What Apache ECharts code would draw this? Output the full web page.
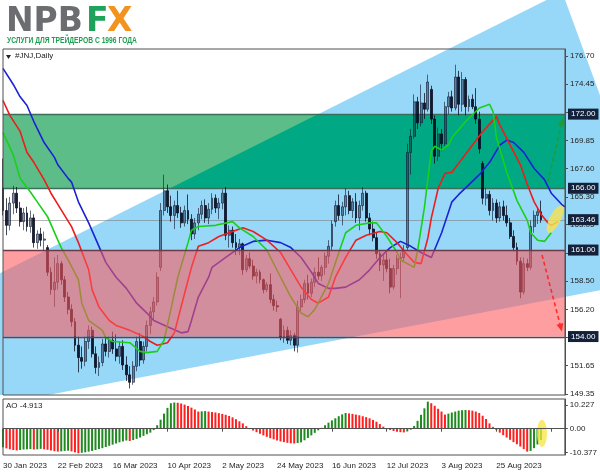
<!DOCTYPE html>
<html><head><meta charset="utf-8">
<script src="https://cdn.jsdelivr.net/npm/echarts@6/dist/echarts.min.js"></script>
<style>html,body{margin:0;padding:0;background:#fff}#c{width:600px;height:476px}</style>
</head><body><div id="c"></div>
<script>
// ---------------- data ----------------
const dateLabels = ['30 Jan 2023','22 Feb 2023','16 Mar 2023','10 Apr 2023','2 May 2023','24 May 2023','16 Jun 2023','12 Jul 2023','3 Aug 2023','25 Aug 2023'];
const labelEvery = 16;
const barSlots = 165;
const priceTicks = [176.70,174.45,172.15,169.85,167.60,165.30,163.05,160.75,158.50,156.20,153.95,151.65,149.35];
const aoTicks = [10.227, 0, -10.377];
const aoTickLabels = ['10.227','0.00','-10.377'];
const levelPrices = [172.00, 166.00, 161.00, 154.00];
const currentPrice = 163.46;
const aoName = 'AO -4.913';
const symbolName = '#JNJ,Daily';
// [open, high, low, close]
const ohlc = [
[166.0,168.4,163.8,164.2],[164.2,165.2,162.2,163.0],[163.0,165.3,162.6,164.8],[164.8,166.2,163.9,165.6],[165.6,166.1,164.0,164.4],
[164.4,164.9,162.9,163.3],[163.3,164.4,162.6,164.0],[164.0,164.5,162.5,162.9],[162.9,164.2,162.4,163.6],[163.6,163.9,161.2,161.6],
[161.6,162.6,161.1,162.3],[162.3,162.8,161.3,161.8],[161.8,162.5,161.0,161.9],[161.2,161.4,158.9,159.2],[159.2,159.6,157.4,157.8],
[157.8,160.4,156.4,158.4],[158.4,160.6,157.8,159.9],[159.9,160.1,158.2,158.6],[158.6,158.9,156.8,157.2],[157.2,157.6,155.8,156.2],
[156.2,156.6,154.8,155.2],[155.2,155.5,152.8,153.3],[153.3,154.0,151.1,152.3],[152.3,153.2,151.4,152.0],[152.0,154.0,151.6,153.6],
[153.6,154.9,153.0,154.5],[154.5,154.8,152.3,152.6],[152.6,153.2,151.0,151.5],[151.5,152.4,150.8,151.9],[151.9,153.8,151.6,153.4],
[153.4,154.0,152.4,152.8],[152.8,154.0,152.3,153.7],[153.7,154.4,152.6,153.0],[153.0,154.2,152.0,152.4],[152.4,153.6,151.8,153.2],
[153.2,153.7,151.3,151.7],[151.7,152.4,150.4,150.9],[150.9,151.6,149.8,150.3],[150.3,152.0,150.1,151.6],[151.6,154.0,151.2,153.6],
[153.6,154.3,151.6,152.1],[152.1,153.6,151.8,153.2],[153.2,155.3,152.8,154.9],[154.9,156.4,154.2,156.0],[156.0,157.2,155.3,156.8],
[156.8,159.2,156.5,158.8],[159.6,164.8,159.3,164.2],[164.2,167.1,163.8,165.8],[165.8,166.3,164.0,164.5],[164.5,165.4,163.3,163.8],
[163.8,165.0,162.7,164.6],[164.6,165.8,163.6,164.0],[164.0,164.5,162.8,163.2],[163.2,164.6,162.9,164.2],[164.2,165.5,163.1,163.5],
[163.5,163.9,161.8,162.3],[162.3,163.6,161.9,163.2],[163.2,164.4,162.6,163.9],[163.9,165.0,163.5,164.6],[164.6,165.1,163.2,163.6],
[163.6,164.8,163.1,164.3],[164.3,165.6,163.9,165.2],[165.2,165.5,164.0,164.4],[164.4,165.2,163.5,164.8],[164.8,165.9,164.3,165.6],
[165.6,166.1,161.8,162.2],[162.2,163.0,161.2,162.6],[162.6,162.9,161.2,161.6],[161.6,162.3,160.6,161.2],[161.2,161.9,160.6,161.5],
[161.5,161.6,159.0,159.4],[159.4,160.6,159.2,160.3],[160.3,160.8,159.5,159.7],[159.7,160.2,158.6,158.9],[158.9,159.5,158.3,159.2],
[159.2,159.4,158.3,158.6],[158.6,158.7,157.5,157.8],[157.8,158.4,157.6,158.2],[158.2,159.1,156.7,157.0],[157.0,157.4,156.1,156.5],
[156.5,156.9,156.0,156.4],[155.4,155.5,153.7,153.9],[153.9,154.9,153.5,154.5],[154.5,154.8,153.4,153.7],[153.7,154.5,153.3,154.1],
[154.1,154.3,152.8,153.3],[153.3,156.9,152.7,156.4],[156.4,157.4,155.9,157.0],[157.0,158.6,156.7,158.3],[158.3,159.0,157.0,157.5],
[157.5,158.7,157.2,158.4],[158.4,159.6,158.0,159.2],[159.2,160.4,158.6,158.9],[158.9,159.8,158.5,159.6],[159.6,160.8,159.0,160.5],
[160.5,161.8,159.9,161.3],[161.3,163.4,161.0,163.1],[163.3,165.0,162.9,164.6],[164.6,165.5,163.4,163.8],[163.8,164.9,163.0,164.5],
[164.5,166.0,163.8,165.4],[165.4,165.8,163.9,164.2],[164.2,165.2,163.6,164.9],[164.9,165.6,163.2,163.6],[163.6,165.0,162.6,164.6],
[164.6,166.1,164.2,165.6],[165.6,165.8,163.3,163.6],[163.6,164.0,162.2,162.7],[162.7,163.3,161.7,162.0],[162.0,162.4,160.3,160.7],
[160.7,161.0,159.3,159.8],[159.8,160.6,158.5,160.2],[160.2,160.8,159.2,159.5],[159.5,160.3,157.5,158.0],[158.0,159.8,157.8,159.5],
[159.5,160.6,159.0,160.3],[160.3,160.8,157.1,160.4],[160.4,161.4,160.1,161.0],[161.2,169.6,161.0,168.9],[168.9,170.8,167.1,170.2],
[170.2,173.6,170.0,173.0],[173.0,173.4,170.8,171.3],[171.3,174.4,171.0,172.9],[172.9,173.7,171.6,172.4],[172.4,175.2,172.2,174.6],
[174.0,174.3,171.2,171.6],[171.6,171.9,168.0,168.6],[168.6,170.9,168.2,170.4],[170.4,170.8,169.0,169.6],[169.6,173.0,169.4,172.6],
[172.6,173.8,172.0,173.4],[173.4,173.9,172.2,172.5],[172.5,176.0,172.3,175.0],[175.0,175.5,171.9,172.8],[172.8,175.4,172.2,174.8],
[174.8,175.0,171.9,172.6],[172.6,173.5,172.2,173.2],[173.2,173.6,172.4,172.6],[172.6,174.1,171.2,171.6],[171.6,172.2,168.8,169.2],
[168.0,168.2,164.7,165.2],[165.2,166.0,164.6,165.5],[165.5,165.8,163.8,164.2],[164.2,165.2,163.4,164.8],[164.8,165.1,163.2,163.6],
[163.6,164.9,163.3,164.5],[164.5,165.0,163.4,163.8],[163.8,164.6,162.9,163.2],[163.2,163.6,161.9,162.1],[162.1,162.6,160.9,161.2],
[161.2,161.6,159.8,160.1],[160.1,160.4,157.1,157.6],[157.6,160.4,157.4,159.9],[159.9,160.3,159.3,159.6],[159.6,163.4,159.4,162.9],
[162.9,164.2,162.4,163.8],[163.8,164.4,163.1,164.1],[164.1,165.0,163.2,163.46]
];
// Alligator lines: [bar, price]
const jawLine = [[0,175.7],[3,174.4],[5,173.4],[7,172.7],[9,171.4],[12,169.7],[15,168.5],[16,167.9],[19,166.8],[20,166.5],[22,164.9],[25,163.2],[28,161.3],[30,160.0],[33,158.8],[36,157.9],[39,156.7],[42,155.9],[44,155.3],[48,154.8],[52,154.3],[54,154.4],[55,155.3],[57,157.2],[60,158.8],[61,159.6],[65,160.4],[69,161.2],[73,161.7],[77,161.8],[81,161.6],[84,161.2],[87,160.4],[90,159.2],[92,158.3],[95,157.9],[97,157.9],[100,158.0],[104,158.6],[107,159.4],[110,160.4],[113,161.2],[116,161.7],[119,161.3],[122,160.8],[125,160.4],[128,162.4],[131,164.9],[133,165.5],[136,166.3],[139,167.1],[142,168.1],[145,169.5],[147,169.9],[149,169.7],[152,168.9],[155,167.6],[158,166.7],[160,165.6],[163,164.7],[164,164.5]];
const teethLine = [[0,173.1],[2,171.9],[5,170.6],[7,168.9],[9,168.1],[12,166.7],[14,165.6],[16,164.7],[20,162.9],[22,161.6],[25,159.4],[26,157.8],[28,156.4],[31,155.3],[33,154.9],[37,154.5],[41,154.0],[43,153.6],[45,153.3],[48,153.5],[50,154.3],[53,157.5],[55,159.6],[57,161.3],[60,161.6],[63,162.1],[67,162.5],[70,162.8],[73,162.5],[77,161.8],[81,160.8],[84,159.4],[87,158.0],[90,157.0],[92,156.7],[95,157.2],[97,158.8],[100,160.4],[103,161.8],[106,162.2],[110,162.5],[112,162.4],[115,161.6],[118,160.6],[120,160.0],[122,159.9],[124,162.0],[125,163.6],[126,164.8],[127,166.0],[129,167.2],[131,167.3],[134,168.4],[137,169.5],[140,170.6],[144,171.8],[145,171.1],[148,169.5],[151,167.9],[153,166.3],[155,164.9],[157,163.9],[159,163.2],[160,163.0],[162,163.3]];
const lipsLine = [[0,170.5],[3,168.7],[5,166.8],[8,165.7],[10,164.9],[13,163.7],[16,161.8],[17,161.2],[19,160.2],[22,158.6],[23,156.7],[25,155.3],[27,154.9],[29,154.5],[30,153.9],[32,153.6],[37,153.5],[40,152.8],[42,152.7],[45,152.8],[47,153.7],[49,156.2],[51,158.8],[54,161.6],[55,162.6],[57,162.9],[62,163.0],[67,163.3],[69,162.8],[73,162.1],[77,161.0],[81,158.8],[84,157.2],[87,155.9],[89,155.6],[91,156.2],[95,158.3],[98,160.8],[100,162.4],[103,163.0],[107,163.2],[109,163.2],[112,162.1],[115,160.8],[116,160.2],[120,159.6],[121,161.0],[123,164.5],[124,166.8],[125,169.0],[126,169.4],[128,169.1],[130,169.5],[131,170.1],[135,171.4],[139,172.5],[142,172.8],[143,172.2],[144,170.1],[147,167.3],[150,165.0],[153,163.4],[154,162.4],[156,161.8],[158,161.7],[160,162.4]];
const aoValues = [
-8.0,-8.5,-8.9,-9.2,-9.4,-9.2,-9.0,-8.9,-8.8,-9.0,-8.9,-8.7,-8.9,-9.1,-9.4,-9.7,-9.9,-9.8,-9.6,-9.5,
-9.8,-10.2,-10.6,-10.4,-10.2,-9.9,-9.6,-9.2,-8.8,-8.4,-7.9,-7.4,-6.9,-6.4,-5.9,-5.5,-5.1,-5.3,-4.9,-4.4,
-3.8,-3.1,-2.4,-1.7,-0.6,1.5,3.9,6.5,9.0,11.0,11.3,11.2,10.9,10.4,9.8,9.1,8.3,7.4,7.5,7.6,
7.4,7.2,7.0,6.7,6.4,6.0,5.5,4.9,4.1,3.2,2.3,1.1,-0.2,-0.8,-1.5,-2.2,-2.9,-3.5,-4.1,-4.6,
-5.1,-5.5,-5.8,-6.1,-6.3,-6.4,-6.2,-5.9,-5.0,-4.0,-2.9,-1.8,-0.7,0.4,1.5,2.6,3.6,4.5,5.4,6.2,
6.8,6.6,6.4,6.1,5.8,5.4,5.0,4.5,3.8,3.0,2.0,0.9,-0.2,-0.6,-1.0,-1.3,-1.5,-1.6,-1.2,-0.4,
1.2,3.4,6.0,8.8,11.7,11.0,9.9,8.6,7.4,6.1,6.5,7.0,7.4,7.8,8.0,8.1,8.0,7.8,7.4,6.8,
5.6,4.2,2.3,0.8,-0.6,-1.7,-2.8,-3.8,-4.8,-5.8,-6.7,-7.7,-8.8,-9.9,-9.6,-8.4,-6.8,-4.913
];
// annotation objects in data coordinates [bar, price]
const channelTriangle = [[-124.0,142.05],[163.2,181.87],[193.7,158.78]];
const greenZone = [166.00, 172.00];
const redZone = [154.00, 161.00];
const upArrow = [[159.0,166.5],[163.4,171.7]];
const downArrow = [[157.3,160.6],[163.1,154.4]];
const priceMarker = [161.1,163.5];
const aoMarker = [157.3,-2.0];

// ---------------- chart ----------------
const chart = echarts.init(document.getElementById('c'), null, {renderer:'canvas', width:600, height:476});
const slots = Array.from({length: barSlots}, (_, i) => i);
const priceMin = 149.27, priceMax = 177.27, aoMin = -11.36, aoMax = 12.83;
const FONT = '"Liberation Sans", Arial, sans-serif';

function clipPoly(poly, xmin, xmax, ymin, ymax) {
  const edges = [
    [p => p[0] >= xmin, (a,b) => { const t=(xmin-a[0])/(b[0]-a[0]); return [xmin, a[1]+t*(b[1]-a[1])]; }],
    [p => p[0] <= xmax, (a,b) => { const t=(xmax-a[0])/(b[0]-a[0]); return [xmax, a[1]+t*(b[1]-a[1])]; }],
    [p => p[1] >= ymin, (a,b) => { const t=(ymin-a[1])/(b[1]-a[1]); return [a[0]+t*(b[0]-a[0]), ymin]; }],
    [p => p[1] <= ymax, (a,b) => { const t=(ymax-a[1])/(b[1]-a[1]); return [a[0]+t*(b[0]-a[0]), ymax]; }]
  ];
  let out = poly;
  for (const [inside, inter] of edges) {
    const inp = out; out = [];
    for (let i = 0; i < inp.length; i++) {
      const cur = inp[i], prev = inp[(i + inp.length - 1) % inp.length];
      if (inside(cur)) { if (!inside(prev)) out.push(inter(prev, cur)); out.push(cur); }
      else if (inside(prev)) out.push(inter(prev, cur));
    }
    if (!out.length) break;
  }
  return out;
}
function makePt(api) {
  return (bar, val) => {
    const b0 = Math.floor(bar);
    const a = api.coord([b0, val]), b = api.coord([b0 + 1, val]);
    return [a[0] + (bar - b0) * (b[0] - a[0]), a[1]];
  };
}
function arrowEls(p0, p1, color) {
  const dx = p1[0]-p0[0], dy = p1[1]-p0[1], L = Math.hypot(dx, dy);
  const ux = dx/L, uy = dy/L, hl = 8, hw = 3.5;
  const base = [p1[0]-ux*hl, p1[1]-uy*hl];
  return [
    {type:'line', shape:{x1:p0[0], y1:p0[1], x2:base[0], y2:base[1]}, style:{stroke:color, lineWidth:1.6, lineDash:[4,3]}},
    {type:'polygon', shape:{points:[p1, [base[0]-uy*hw, base[1]+ux*hw], [base[0]+uy*hw, base[1]-ux*hw]]}, style:{fill:color}}
  ];
}
function ellipsePts(c, ax, rx, ry) {
  const L = Math.hypot(ax[0], ax[1]); const u = [ax[0]/L, ax[1]/L], v = [-u[1], u[0]];
  const pts = [];
  for (let k = 0; k < 40; k++) {
    const t = k/40*Math.PI*2, a = Math.cos(t)*rx, b = Math.sin(t)*ry;
    pts.push([c[0]+a*u[0]+b*v[0], c[1]+a*u[1]+b*v[1]]);
  }
  return pts;
}
function bandEdges(api, z) {
  return [api.coord([0, z[1]])[1], api.coord([0, z[0]])[1]];
}

// background: channel wedge + green zone (opaque, under the price)
function regionsRender(params, api) {
  const pt = makePt(api);
  const xL = api.coord([0, priceMin])[0], xR = api.coord([barSlots-1, priceMin])[0];
  const yBot = api.coord([0, priceMin])[1];
  const tri = channelTriangle.map(p => pt(p[0], p[1]));
  const wedge = clipPoly(tri, 0, api.getWidth(), 0, yBot);
  const kids = [{type:'polygon', shape:{points:wedge}, style:{fill:'#97d8f8'}}];
  const [y1, y2] = bandEdges(api, greenZone);
  kids.push({type:'polygon', shape:{points:[[xL,y1],[xR,y1],[xR,y2],[xL,y2]]}, style:{fill:'#5cbd89'}});
  const inter = clipPoly(tri, xL, xR, y1, y2);
  if (inter.length > 2) kids.push({type:'polygon', shape:{points:inter}, style:{fill:'#00a983'}});
  for (const y of [y1, y2]) kids.push({type:'line', shape:{x1:xL, y1:Math.round(y)+0.5, x2:xR, y2:Math.round(y)+0.5}, style:{stroke:'#3c6e5c', lineWidth:1.3}});
  const yc = Math.round(api.coord([0, currentPrice])[1]) + 0.5;
  kids.push({type:'line', shape:{x1:xL, y1:yc, x2:xR, y2:yc}, style:{stroke:'rgba(120,120,120,0.55)', lineWidth:1}});
  return {type:'group', children:kids};
}
// red zone: translucent, drawn over the price like the original
function redZoneRender(params, api) {
  const xL = api.coord([0, priceMin])[0], xR = api.coord([barSlots-1, priceMin])[0];
  const [y1, y2] = bandEdges(api, redZone);
  const kids = [{type:'polygon', shape:{points:[[xL,y1],[xR,y1],[xR,y2],[xL,y2]]}, style:{fill:'rgba(255,88,92,0.58)'}}];
  for (const y of [y1, y2]) kids.push({type:'line', shape:{x1:xL, y1:Math.round(y)+0.5, x2:xR, y2:Math.round(y)+0.5}, style:{stroke:'#6e3a4a', lineWidth:1.3}});
  return {type:'group', children:kids};
}

function annotRender(params, api) {
  const pt = makePt(api);
  const kids = [];
  kids.push(...arrowEls(pt(upArrow[0][0], upArrow[0][1]), pt(upArrow[1][0], upArrow[1][1]), '#1f9a3c'));
  kids.push(...arrowEls(pt(downArrow[0][0], downArrow[0][1]), pt(downArrow[1][0], downArrow[1][1]), '#ff2b2b'));
  const c = pt(priceMarker[0], priceMarker[1]);
  kids.push({type:'polygon', shape:{points:ellipsePts(c, [14,-27], 15, 5.5)}, style:{fill:'rgba(248,228,80,0.8)'}});
  const xR = api.coord([barSlots-1, priceMin])[0];
  const boxes = levelPrices.concat([currentPrice]);
  for (const p of boxes) {
    const y = api.coord([0, p])[1];
    kids.push({type:'text', x: xR + 3, y: y, style:{text: p.toFixed(2), fill:'#ffffff', font:'8px ' + FONT,
      align:'left', verticalAlign:'middle', textAlign:'left', textVerticalAlign:'middle',
      backgroundColor:'#14213a', padding:[2,3,1,3]}});
  }
  return {type:'group', children:kids};
}

function aoMarkRender(params, api) {
  const pt = makePt(api);
  const c = pt(aoMarker[0], aoMarker[1]);
  return {type:'polygon', shape:{points:ellipsePts(c, [0,1], 13.5, 5)}, style:{fill:'rgba(245,228,60,0.75)'}};
}

const candleData = ohlc.map(r => [r[0], r[3], r[2], r[1]]);
const aoData = aoValues.map((v, i) => ({value:v, itemStyle:{color: (i > 0 && v < aoValues[i-1]) ? '#ff1f1f' : '#1f8a1f'}}));

const option = {
  animation: false,
  backgroundColor: '#ffffff',
  textStyle: {fontFamily: FONT},
  grid: [
    {left:3, top:49, width:562, height:346, show:true, borderColor:'#505050', borderWidth:1, backgroundColor:'transparent', z:8},
    {left:3, top:399, width:562, height:56, show:true, borderColor:'#505050', borderWidth:1, backgroundColor:'transparent', z:8}
  ],
  xAxis: [
    {type:'category', gridIndex:0, data:slots, boundaryGap:false, axisLine:{show:false}, axisTick:{show:false}, axisLabel:{show:false}, splitLine:{show:false}},
    {type:'category', gridIndex:1, data:slots, boundaryGap:false, z:10,
      axisLine:{show:true, lineStyle:{color:'#505050'}},
      axisTick:{show:true, interval: labelEvery-1, length:3, lineStyle:{color:'#505050'}},
      axisLabel:{show:true, interval: labelEvery-1, align:'left', margin:7, fontSize:8, color:'#1e1e1e', fontFamily:FONT,
        formatter:(v, idx) => (idx % labelEvery === 0 && dateLabels[idx/labelEvery]) ? dateLabels[idx/labelEvery] : ''},
      splitLine:{show:false}}
  ],
  yAxis: [
    {type:'value', gridIndex:0, position:'right', min:priceMin, max:priceMax, z:10,
      axisLine:{show:true, lineStyle:{color:'#505050'}},
      axisTick:{show:true, length:3, customValues:priceTicks, lineStyle:{color:'#505050'}},
      axisLabel:{show:true, customValues:priceTicks, margin:5, fontSize:8, color:'#1e1e1e', fontFamily:FONT, formatter:v => v.toFixed(2)},
      splitLine:{show:false}},
    {type:'value', gridIndex:1, position:'right', min:aoMin, max:aoMax, z:10,
      axisLine:{show:true, lineStyle:{color:'#505050'}},
      axisTick:{show:true, length:3, customValues:aoTicks, lineStyle:{color:'#505050'}},
      axisLabel:{show:true, customValues:aoTicks, margin:5, fontSize:8, color:'#1e1e1e', fontFamily:FONT,
        formatter:v => { const k = aoTicks.findIndex(t => Math.abs(t - v) < 1e-6); return k >= 0 ? aoTickLabels[k] : ''; }},
      splitLine:{show:false}}
  ],
  series: [
    {type:'custom', name:'zones', xAxisIndex:0, yAxisIndex:0, z:1, clip:false, silent:true, data:[[0, 160]], renderItem:regionsRender},
    {type:'candlestick', xAxisIndex:0, yAxisIndex:0, z:3, barWidth:2.4, data:candleData,
      itemStyle:{color:'rgba(30,40,70,0.5)', color0:'rgba(5,10,30,0.92)', borderColor:'rgba(20,28,55,0.8)', borderColor0:'rgba(5,10,30,0.95)', borderWidth:0.8}},
    {type:'line', name:'jaw', xAxisIndex:0, yAxisIndex:0, z:4, data:jawLine, showSymbol:false, lineStyle:{color:'#1a22d6', width:1.6}},
    {type:'line', name:'teeth', xAxisIndex:0, yAxisIndex:0, z:4, data:teethLine, showSymbol:false, lineStyle:{color:'#ee1c1c', width:1.6}},
    {type:'line', name:'lips', xAxisIndex:0, yAxisIndex:0, z:4, data:lipsLine, showSymbol:false, lineStyle:{color:'#19d019', width:1.6}},
    {type:'custom', name:'redZone', xAxisIndex:0, yAxisIndex:0, z:5, clip:false, silent:true, data:[[0, 160]], renderItem:redZoneRender},
    {type:'custom', name:'annot', xAxisIndex:0, yAxisIndex:0, z:12, clip:false, silent:true, data:[[0, 160]], renderItem:annotRender},
    {type:'bar', name:'AO', xAxisIndex:1, yAxisIndex:1, z:3, barWidth:2, data:aoData},
    {type:'custom', name:'aoMark', xAxisIndex:1, yAxisIndex:1, z:6, clip:false, silent:true, data:[[0, 0]], renderItem:aoMarkRender}
  ],
  graphic: [
    {type:'text', left:6, top:6, z:20, style:{text:'NPB', font:'bold 33px "DejaVu Sans", sans-serif', fill:'#6b6d70'}},
    {type:'text', left:86, top:6, z:20, style:{text:'F', font:'bold 33px "DejaVu Sans", sans-serif', fill:'#1fa35c'}},
    {type:'text', left:107, top:6, z:20, style:{text:'X', font:'bold 33px "DejaVu Sans", sans-serif', fill:'#f2921f'}},
    {type:'text', x:7, y:36, scaleX:0.79, z:20, style:{text:'УСЛУГИ ДЛЯ ТРЕЙДЕРОВ С 1996 ГОДА', font:'bold 8.5px ' + FONT, fill:'#1f9e52'}},
    {type:'polygon', z:20, shape:{points:[[6,55],[11,55],[8.5,59]]}, style:{fill:'#222'}},
    {type:'text', left:15, top:52, z:20, style:{text:symbolName, font:'8px ' + FONT, fill:'#222'}},
    {type:'text', left:6, top:402, z:20, style:{text:aoName, font:'8px ' + FONT, fill:'#222'}}
  ]
};
chart.setOption(option);
</script>
</body></html>
